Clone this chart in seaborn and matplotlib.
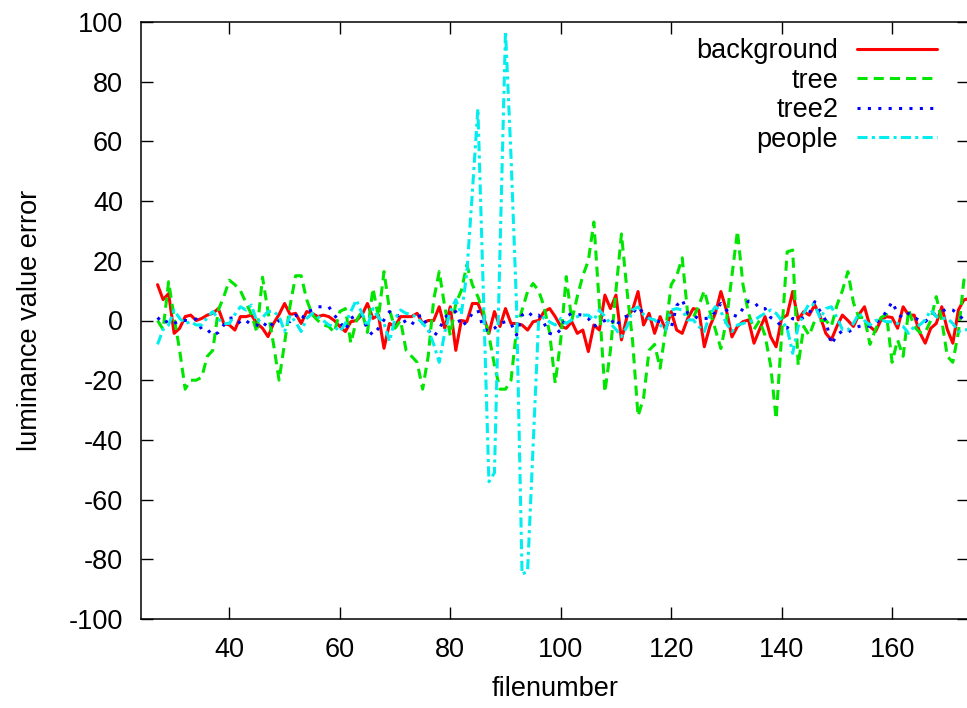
import numpy as np
import pandas as pd
import seaborn as sns
import matplotlib.pyplot as plt

# file numbers on the x axis
filenumber = np.arange(27, 175)

background = [
    12, 7, 9, -4.3, -2.6, 1.3, 1.8, 0, 0.7, 1.8, 2.4, 4, -1, -1.5, -3.2, 1.3, 1.3, 1.8, -1, -2.6, -5.4, -1, 2, 5.7,
    2, 2.4, -1, 3, 2.4, 1.3, 1.8, 1.3, 0, -2, -3.7, -0.4, 0, 1.8, 5.7, 0.7, 1.8, -9.3, -1, -2, 1.3, 1.3, 1.3, 2.4, -1,
    0, 0, 4.6, -2.6, 4.6, -10, 0, -0.4, 5.7, 5.7, 1.3, -4.3, 3, -2, 4, -1, -1, -1.5, -3.2, -0.4, 0, 3, 4, 1.3, -2,
    -2.6, -0.4, -4.3, -3.2, -10.4, -1.5, -3.2, 8.5, 4, 8.5, -6.5, 1.3, 3.5, 9.7, -1.5, 2.4, -4.3, 1.3, -3.2, 3, -3.2, -4.3, 0.7, 4,
    3.5, -8.8, -2, 2.4, 9.7, 3.5, -5.5, -2, -0.4, 0.2, -7.6, -3, 1.3, -5.4, -8.8, 0.7, 1.8, 9.7, 0.2, 3, 1.8, 5.2, 1.3, -4.3, -6.5,
    -2, 1.8, 0, -2, 2, 4.6, -2, -3.7, 0.2, 1.3, 1, -2.6, 4.6, 1.8, 1.8, -4, -7.6, -2.6, -1, 4.6, -3, -7.6, 3.5, 6.9, 7.4,
]

tree = [
    0, -3, 13, 1, -10, -23, -20, -20, -19, -12, -10, 3.5, 8, 13.5, 12, 10, 6, 2, -4, 14.5, 3, -8, -20, -7.6,
    5, 15, 15, 7, 2, 0, -1.5, -2, -4, 3, 4, -7.6, 0, 3, -4, 10.8, 1, 16.4, 3.5, -2.6, 0, -10, -12, -14, -23,
    -12, 7, 16.4, 4.6, -5, 5.7, 10, 18.6, 12, 8, 3, -5, -15, -23, -23, -20, -3, 3.5, 9.7, 12.4, 10, 4.6, -4.3, -21, -6.5,
    14.7, 0, 8, 15, 20, 33, 5, -24, -10, 10, 29, 10, -6.5, -32, -26, -10, -8, -16, -3, 12, 15, 21, 2, 1,
    5, 10, 3, -3, -9.4, 0, 15, 30, 12, 2.4, -3, 0, -5, -15, -33, -5, 23, 23.6, -15, -2, -5, 0, 0, 0, -2,
    5, 10, 16.4, 6, 1, 1, -8, -3, 1, 2, -14, -6.5, -12, 3.5, -2, -4, -4, 0, 8, 0, -12, -14, -4, 13.5, 16,
]

tree2 = [
    1, -1, 0, -1, 0, 0, 0, 0.5, -3, -3, -5, -4, -1.5, 0.7, 1, -1, 0, -1.5, -1.5, -2.5, 0, -2, 0, 0,
    -0.4, 1.8, 0.2, 3, 3.5, 4.6, 4.6, 4.6, 1.8, -0.4, -3.2, 0.7, 1.8, 1.8, -3, -4.9, -2.6, 0.2, 3, 1.3, 1.8, -1, -1.5, 1.3, 1.8,
    -3.2, -5.4, -3, 1, 2.4, 3, -2, -0.4, 2.4, 3.5, -2.6, -3.7, -2.6, -1, -0.4, -1, -4.9, 1.8, 3, 1.3, 1.8, -1, -4.3, -4.9, -3,
    1.3, 2.4, 2, 1.8, 0.7, -2, -1, 0, 0.7, -2, 0.7, 1.5, 2.4, 4.6, 2.4, 0.7, 0, -0.4, 0, -2.6, 5, 7, 2.4, 1.8,
    0.5, 0.7, 0.7, 3, 5.7, 3.5, 2, 1.3, 4, 6.5, 6.3, 4, 4, 1, 0, -2, -2.6, 0.7, 0.2, 1, 2.4, 6.3, 3, 0, -8,
    -4.9, -3.5, -4, -2.6, -2, -1.5, -2, -1, 0.7, 3, 6.3, 2.4, 0.7, 2.4, 1, 0, -0.4, 1.3, 2.4, 3, 4, 3.5, 2, 0.2, 0,
]

people = [
    -8, -3, -1.5, 3.5, 0.7, -1, -0.4, -1.5, -1.5, 1, 3, 0.5, -1, -1, 2, 4.6, 3.5, 5.2, -0.5, 1, 3, 3, 1.5, -3.7,
    1.8, -0.5, -3.7, 0.7, 2.4, 1.3, 0, -1.5, -2, -3.7, -1, 3, 6.9, 2.4, -2, 4, 1, -1, -7, 0.7, 3.5, 2.4, 2, 1, -1,
    -3, -8, -14, -4, 3, 7, 2, 16, 43, 71, 8, -54, -51, 23, 97, 55, 5, -85, -84, -42, 0, 1, -0.5, -1.5, 0.7,
    -1, 0.2, 1.3, 1.8, 1.8, 0.2, 3.5, 1.3, -1, -3, -5.4, -2, 3.5, 4.6, 2, 0.7, 0.2, -1.5, -3.2, 3.5, 4, 3.5, 0.2, 0.2,
    -2, -3.7, 2, 4.6, 3, -1, -3.7, -1.5, -1, -0.4, 0, 1.3, 2.4, 3.5, 2.4, 0, -2.6, -11, -2, 2.4, 5.7, 5.2, 0.7, 4, 4.6,
    1, -3, -3.2, -1, 2.4, 0, -1.5, 0, 0.2, -0.4, -0.4, -1, -2, -4.3, -2, -1.5, 0.2, 3.5, 1.3, 0.7, 0.7, -1, -3.7, -3.2, -3,
]

series_names = ['background', 'tree', 'tree2', 'people']
series_colors = ['#ff0000', '#00e600', '#0000ff', '#00eeee']
series_styles = ['-', (0, (3.3, 2.0)), (0, (1.0, 2.4)), (0, (3.3, 1.4, 1.0, 1.4))]

sns.set_style('ticks')
plt.rcParams['font.family'] = ['Liberation Sans', 'DejaVu Sans']
plt.rcParams['axes.unicode_minus'] = False
plt.rcParams['text.color'] = 'black'
plt.rcParams['axes.labelcolor'] = 'black'
plt.rcParams['xtick.color'] = 'black'
plt.rcParams['ytick.color'] = 'black'

fig = plt.figure(figsize=(9.67, 7.08), dpi=100)
ax = fig.add_axes([141 / 967, 1 - 619 / 708, 828.4 / 967, 597 / 708])

for name, values, color, ls in zip(series_names, [background, tree, tree2, people], series_colors, series_styles):
    df = pd.DataFrame({'filenumber': filenumber, 'error': values})
    sns.lineplot(data=df, x='filenumber', y='error', ax=ax, color=color, lw=2.2,
                 linestyle=ls, label=name, errorbar=None)

ax.set_xlim(24, 174)
ax.set_ylim(-100, 100)
ax.set_xticks([40, 60, 80, 100, 120, 140, 160])
ax.set_yticks(np.arange(-100, 101, 20))
ax.tick_params(direction='in', length=8.6, width=1, top=True, right=True,
               labelsize=19.5, pad=13, colors='black', labelcolor='black')
for sp in ax.spines.values():
    sp.set_linewidth(1.1)
    sp.set_color('black')

ax.set_xlabel('filenumber', fontsize=19.5, color='black')
ax.set_ylabel('luminance value error', fontsize=19.5, color='black')
ax.xaxis.set_label_coords(0.5, -0.095)
ax.yaxis.set_label_coords(-0.118, 0.5)

leg = ax.legend(loc='upper right', bbox_to_anchor=(0.961, 0.973), frameon=False, markerfirst=False,
                handlelength=2.95, handletextpad=0.7, labelspacing=0.13, borderaxespad=0, borderpad=0,
                fontsize=19.5)
for t in leg.get_texts():
    t.set_color('black')

fig.savefig('out.png', dpi=100)
